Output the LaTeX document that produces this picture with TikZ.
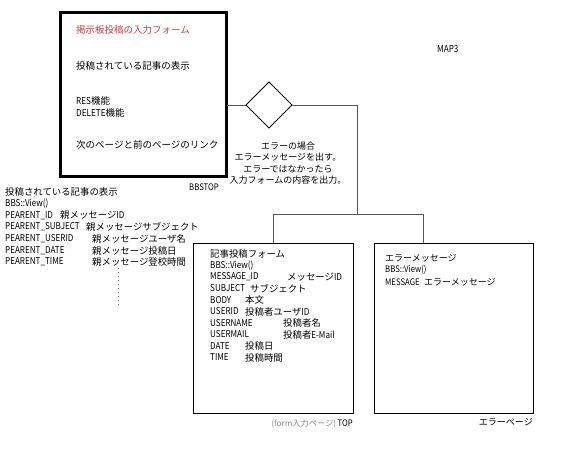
\documentclass[tikz,border=0pt]{standalone}
\usepackage{fontspec}
\setmainfont{Noto Sans CJK JP}
\newfontfamily\cond{Noto Sans CJK JP}[FakeStretch=0.86]
\usetikzlibrary{shapes.geometric}
\definecolor{redtxt}{HTML}{D03A3A}
\definecolor{linegray}{HTML}{555555}
\definecolor{graytxt}{HTML}{8A8A8A}
\begin{document}
\begin{tikzpicture}[x=1pt,y=-1pt,
  t/.style={anchor=west,inner sep=0pt,font=\fontsize{9.4}{10}\selectfont},
  te/.style={anchor=west,inner sep=0pt,font=\fontsize{9}{10}\selectfont},
  tb/.style={anchor=west,inner sep=0pt,font=\fontsize{9.5}{10}\selectfont},
  tc/.style={anchor=center,inner sep=0pt,font=\fontsize{9}{10}\selectfont},
  pagebox/.style={draw=black,line width=0.9pt,inner sep=0pt,outer sep=0pt},
  conn/.style={draw=linegray,line width=0.9pt}]
\useasboundingbox[fill=white] (0,0) rectangle (570,450);

% main BBSTOP box
\node[draw=black,line width=3pt,inner sep=0pt,outer sep=0pt,minimum width=166pt,minimum height=163.5pt] (bbs) at (143.5,94.25) {};
\node[tb,text=redtxt] (b1) at (76,30) {掲示板投稿の入力フォーム};
\node[tb] (b2) at (76,66) {投稿されている記事の表示};
\node[tb] (b3) at (76,101) {{\cond RES}機能};
\node[tb] (b4) at (76,113) {{\cond DELETE}機能};
\node[tb] (b5) at (76,145) {次のページと前のページのリンク};
\node[te] (bbslab) at (189,187) {\cond BBSTOP};

\node[t,font=\fontsize{9.5}{10}\selectfont] (map) at (437,49) {\cond MAP3};

% diamond
\node[draw=black,line width=0.8pt,shape=diamond,aspect=1,minimum width=46pt,minimum height=46pt,inner sep=0pt,outer sep=0pt] (dia) at (269,105) {};

\node[tc] (a1) at (288,146) {エラーの場合};
\node[tc] (a2) at (288,157.5) {エラーメッセージを出す。};
\node[tc] (a3) at (288,169) {エラーではなかったら};
\node[tc] (a4) at (288,180.5) {入力フォームの内容を出力。};

% left list
\node[t] (l1) at (5,192) {投稿されている記事の表示};
\node[t] (l2) at (5,203.7) {\cond BBS::View()};
\node[t] (l3) at (5,215.4) {\cond PEARENT\_ID};
\node[t] (l3b) at (60,215.4) {親メッセージ{\cond ID}};
\node[t] (l4) at (5,227.1) {\cond PEARENT\_SUBJECT};
\node[t] (l4b) at (86,227.1) {親メッセージサブジェクト};
\node[t] (l5) at (5,238.8) {\cond PEARENT\_USERID};
\node[t] (l5b) at (92,238.8) {親メッセージユーザ名};
\node[t] (l6) at (5,250.5) {\cond PEARENT\_DATE};
\node[t] (l6b) at (92,250.5) {親メッセージ投稿日};
\node[t] (l7) at (5,262.2) {\cond PEARENT\_TIME};
\node[t] (l7b) at (92,262.2) {親メッセージ登校時間};
\coordinate (d1) at (118,268);
\coordinate (d2) at (118,308);
\draw[graytxt,line width=0.8pt,dash pattern=on 0.8pt off 3.2pt] (d1) -- (d2);

% form page box
\node[pagebox,minimum width=160pt,minimum height=170pt] (form) at (273,328) {};
\node[t] (f1) at (210,254) {記事投稿フォーム};
\node[t] (f2) at (210,265.5) {\cond BBS::View()};
\node[t] (f3) at (210,277) {\cond MESSAGE\_ID};
\node[t] (f3b) at (287,277) {メッセージ{\cond ID}};
\node[t] (f4) at (210,288.5) {\cond SUBJECT};
\node[t] (f4b) at (250,288.5) {サブジェクト};
\node[t] (f5) at (210,300) {\cond BODY};
\node[t] (f5b) at (245,300) {本文};
\node[t] (f6) at (210,311.5) {\cond USERID};
\node[t] (f6b) at (245,311.5) {投稿者ユーザ{\cond ID}};
\node[t] (f7) at (210,323) {\cond USERNAME};
\node[t] (f7b) at (283,323) {投稿者名};
\node[t] (f8) at (210,334.5) {\cond USERMAIL};
\node[t] (f8b) at (283,334.5) {投稿者{\cond E-Mail}};
\node[t] (f9) at (210,346) {\cond DATE};
\node[t] (f9b) at (245,346) {投稿日};
\node[t] (f10) at (210,357.5) {\cond TIME};
\node[t] (f10b) at (245,357.5) {投稿時間};
\node[anchor=east,inner sep=0pt] (formlab) at (353,424) {{\fontsize{8.2}{9}\selectfont\color{graytxt}(form入力ページ)}\,{\fontsize{9}{10}\selectfont\cond TOP}};

% error page box
\node[pagebox,minimum width=159pt,minimum height=170pt] (err) at (453.5,328) {};
\node[te] (e1) at (385,258) {エラーメッセージ};
\node[te] (e2) at (385,270) {\cond BBS::View()};
\node[te] (e3) at (385,282) {\cond MESSAGE};
\node[te] (e3b) at (424,282) {エラーメッセージ};
\node[anchor=east,inner sep=0pt,font=\fontsize{9}{10}\selectfont] (errlab) at (533,422) {エラーページ};

% connectors
\coordinate (jn) at (357,214);
\coordinate (er) at (423,214);
\draw[conn] (bbs.east |- dia.west) -- (dia.west);
\draw[conn] (dia.east) -| (jn);
\draw[conn] (form.north) |- (er) -- (err.north -| er);
\end{tikzpicture}
\end{document}
